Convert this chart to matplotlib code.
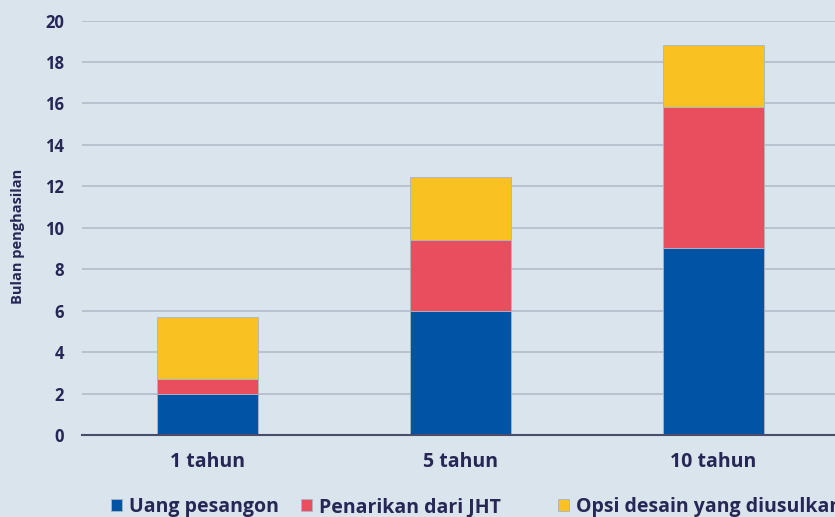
import numpy as np
import matplotlib.pyplot as plt

categories = ["1 tahun", "5 tahun", "10 tahun"]
uang_pesangon = [2.0, 6.0, 9.0]
penarikan_jht = [0.68, 3.42, 6.85]
opsi_desain = [3.02, 3.04, 2.97]
series_names = ["Uang pesangon", "Penarikan dari JHT", "Opsi desain yang diusulkan"]
colors = ["#0053a5", "#e84e5e", "#f9c222"]

BG = "#dae4ed"
TXT = "#262755"

plt.rcParams['font.family'] = ['Open Sans', 'DejaVu Sans']

fig = plt.figure(figsize=(8.35, 5.17), dpi=100, facecolor=BG)
ax = fig.add_axes([82 / 835, 1 - 435 / 517, 1 - 82 / 835, 414.5 / 517])
ax.set_facecolor(BG)

x = np.arange(len(categories))
bottom = np.zeros(len(categories))
handles = []
for vals, name, col in zip([uang_pesangon, penarikan_jht, opsi_desain], series_names, colors):
    b = ax.bar(x, vals, width=0.4, bottom=bottom, color=col, label=name,
               edgecolor="#aab4c4", linewidth=0.6, zorder=3)
    handles.append(b)
    bottom += np.array(vals)

ax.set_ylim(0, 20)
ax.set_yticks(range(0, 21, 2))
ax.set_xlim(-0.495, 2.48)
ax.set_xticks(x)
ax.set_xticklabels(categories)
ax.grid(axis="y", color="#b4bccb", linewidth=1.2, zorder=0)
for s in ["top", "right", "left"]:
    ax.spines[s].set_visible(False)
ax.spines["bottom"].set_color("#4a4d6a")
ax.spines["bottom"].set_linewidth(1.5)
ax.spines["bottom"].set_zorder(4)
ax.tick_params(axis="both", length=0, colors=TXT)
ax.tick_params(axis="y", pad=13, labelsize=12)
ax.tick_params(axis="x", pad=12, labelsize=14)
for lab in ax.get_xticklabels() + ax.get_yticklabels():
    lab.set_fontweight("bold")

fig.text(18 / 835, 1 - 236 / 517, "Bulan penghasilan", rotation=90, ha="center", va="center",
         fontsize=10.5, fontweight="bold", color=TXT)

# legend entries sit at uneven positions in the original
leg_x = [111, 301, 558]
for h, name, lx in zip(handles, series_names, leg_x):
    leg = fig.legend([h], [name], loc="center left", bbox_to_anchor=(lx / 835, 1 - 507 / 517),
                     frameon=False, borderpad=0, borderaxespad=0,
                     handlelength=0.58, handleheight=0.62, handletextpad=0.33,
                     prop={"size": 14, "weight": "bold"})
    for t in leg.get_texts():
        t.set_color(TXT)

fig.savefig("out.png", dpi=100, facecolor=BG)
